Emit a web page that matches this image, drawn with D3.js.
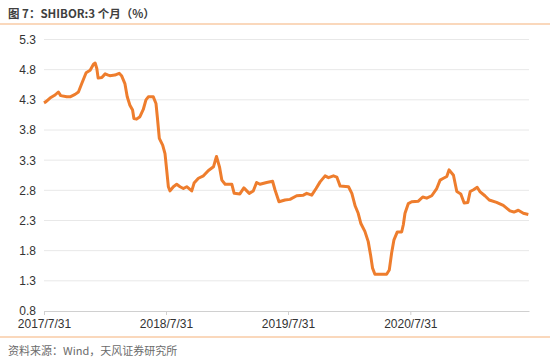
<!DOCTYPE html>
<html>
<head>
<meta charset="utf-8">
<script src="https://cdn.jsdelivr.net/npm/d3@7"></script>
<style>
  html, body { margin: 0; padding: 0; background: #fff; }
  svg { display: block; }
</style>
</head>
<body>
<svg id="chart" width="550" height="363"></svg>
<script>
// SHIBOR 3个月，数值从原图读取（近似）
const dates = [
  "2017-07-31", "2017-08-06", "2017-08-18", "2017-09-02", "2017-09-12", "2017-09-19",
  "2017-10-07", "2017-10-17", "2017-11-01", "2017-11-11", "2017-11-21", "2017-12-04",
  "2017-12-16", "2017-12-26", "2017-12-31", "2018-01-05", "2018-01-09", "2018-01-20",
  "2018-01-30", "2018-02-08", "2018-02-13", "2018-02-28", "2018-03-13", "2018-03-20",
  "2018-03-30", "2018-04-06", "2018-04-14", "2018-04-22", "2018-04-26", "2018-05-04",
  "2018-05-14", "2018-05-24", "2018-06-01", "2018-06-08", "2018-06-23", "2018-07-01",
  "2018-07-05", "2018-07-11", "2018-07-21", "2018-07-28", "2018-08-02", "2018-08-07",
  "2018-08-12", "2018-08-22", "2018-09-01", "2018-09-11", "2018-09-21", "2018-10-01",
  "2018-10-16", "2018-10-23", "2018-11-05", "2018-11-20", "2018-12-05", "2018-12-20",
  "2018-12-29", "2019-01-07", "2019-01-14", "2019-01-24", "2019-02-13", "2019-02-20",
  "2019-03-09", "2019-03-21", "2019-04-06", "2019-04-18", "2019-04-28", "2019-05-08",
  "2019-05-28", "2019-06-15", "2019-06-22", "2019-07-04", "2019-07-22", "2019-08-06",
  "2019-08-26", "2019-09-15", "2019-09-25", "2019-10-10", "2019-10-23", "2019-11-04",
  "2019-11-19", "2019-11-29", "2019-12-14", "2019-12-24", "2020-01-03", "2020-01-28",
  "2020-02-07", "2020-02-17", "2020-02-26", "2020-03-05", "2020-03-17", "2020-03-27",
  "2020-04-03", "2020-04-09", "2020-04-16", "2020-05-21", "2020-05-29", "2020-06-05",
  "2020-06-12", "2020-06-22", "2020-07-05", "2020-07-10", "2020-07-15", "2020-07-25",
  "2020-08-04", "2020-08-24", "2020-09-06", "2020-09-18", "2020-10-03", "2020-10-18",
  "2020-10-28", "2020-11-07", "2020-11-17", "2020-11-24", "2020-12-07", "2020-12-17",
  "2020-12-29", "2021-01-08", "2021-01-19", "2021-01-26", "2021-02-05", "2021-02-16",
  "2021-02-24", "2021-03-11", "2021-03-24", "2021-04-15", "2021-05-05", "2021-05-25",
  "2021-06-06", "2021-06-19", "2021-07-04", "2021-07-19"
];
const shibor3m = [
  4.25, 4.27, 4.33, 4.38, 4.43, 4.37,
  4.35, 4.35, 4.39, 4.43, 4.57, 4.75,
  4.79, 4.89, 4.91, 4.82, 4.66, 4.67,
  4.73, 4.71, 4.70, 4.71, 4.74, 4.70,
  4.57, 4.35, 4.21, 4.13, 3.99, 3.98,
  4.02, 4.14, 4.30, 4.35, 4.35, 4.24,
  4.02, 3.66, 3.55, 3.41, 3.14, 2.86,
  2.79, 2.86, 2.90, 2.86, 2.83, 2.86,
  2.79, 2.92, 3.00, 3.04, 3.13, 3.19,
  3.36, 3.19, 2.97, 2.90, 2.90, 2.75,
  2.74, 2.84, 2.75, 2.79, 2.93, 2.90,
  2.93, 2.95, 2.81, 2.61, 2.64, 2.65,
  2.71, 2.72, 2.75, 2.72, 2.83, 2.94,
  3.04, 3.01, 3.04, 3.02, 2.87, 2.86,
  2.75, 2.54, 2.42, 2.25, 2.12, 1.95,
  1.73, 1.51, 1.41, 1.41, 1.48, 1.76,
  1.98, 2.11, 2.11, 2.23, 2.42, 2.58,
  2.61, 2.62, 2.69, 2.67, 2.71, 2.83,
  2.97, 3.00, 3.03, 3.14, 3.05, 2.78,
  2.74, 2.59, 2.60, 2.78, 2.81, 2.85,
  2.78, 2.71, 2.64, 2.60, 2.55, 2.46,
  2.44, 2.47, 2.42, 2.40
];
const yTicks = [0.8, 1.3, 1.8, 2.3, 2.8, 3.3, 3.8, 4.3, 4.8, 5.3];
const xTicks = ["2017-07-31", "2018-07-31", "2019-07-31", "2020-07-31"];
const xTickLabels = ["2017/7/31", "2018/7/31", "2019/7/31", "2020/7/31"];
const domainEnd = "2021-07-21";

const svg = d3.select("#chart");
const width = +svg.attr("width");
const height = +svg.attr("height");
const margin = { top: 39.5, right: 21, bottom: 52, left: 44 };
const innerWidth = width - margin.left - margin.right;
const innerHeight = height - margin.top - margin.bottom;
const parse = d3.utcParse("%Y-%m-%d");

const data = dates.map((d, i) => ({ date: parse(d), value: shibor3m[i] }));

// 标题 和 分隔线
svg.append("text")
  .attr("x", 8).attr("y", 18)
  .attr("font-family", "'Noto Sans CJK SC', 'Noto Sans', sans-serif")
  .attr("font-size", "11.5px")
  .attr("font-weight", "bold")
  .attr("fill", "#404040")
  .text("图 7：SHIBOR:3 个月（%）");

svg.append("line")
  .attr("x1", 0).attr("x2", width)
  .attr("y1", 24).attr("y2", 24)
  .attr("stroke", "#f8cba6").attr("stroke-width", 1.5);

svg.append("line")
  .attr("x1", 0).attr("x2", width)
  .attr("y1", 337).attr("y2", 337)
  .attr("stroke", "#f8cba6").attr("stroke-width", 1.5);

svg.append("text")
  .attr("x", 8).attr("y", 355)
  .attr("font-family", "'Noto Sans CJK SC', 'Noto Sans', sans-serif")
  .attr("font-size", "11px")
  .attr("fill", "#6b6b6b")
  .text("资料来源：Wind，天风证券研究所");

const g = svg.append("g")
  .attr("transform", `translate(${margin.left},${margin.top})`);

const x = d3.scaleUtc()
  .domain([parse(dates[0]), parse(domainEnd)])
  .range([0, innerWidth]);

const y = d3.scaleLinear()
  .domain([0.8, 5.3])
  .range([innerHeight, 0]);

// 网格线
g.append("g")
  .selectAll("line")
  .data(yTicks.slice(1))
  .enter().append("line")
    .attr("x1", 0).attr("x2", innerWidth)
    .attr("y1", d => y(d)).attr("y2", d => y(d))
    .attr("stroke", "#e8e8e8")
    .attr("stroke-width", 1);

// Y 轴
const yAxis = g.append("g")
  .call(d3.axisLeft(y).tickValues(yTicks).tickFormat(d3.format(".1f")).tickSize(0).tickPadding(8));
yAxis.select(".domain").remove();
yAxis.selectAll("text")
  .attr("font-family", "'Liberation Sans', Arial, sans-serif")
  .attr("font-size", "12px")
  .attr("fill", "#333");

// X 轴
const xAxis = g.append("g")
  .attr("transform", `translate(0,${innerHeight})`)
  .call(d3.axisBottom(x)
    .tickValues(xTicks.map(parse))
    .tickFormat((d, i) => xTickLabels[i])
    .tickSizeInner(4).tickSizeOuter(0).tickPadding(4));
xAxis.select(".domain").attr("stroke", "#d0d0d0");
xAxis.selectAll(".tick line").attr("stroke", "#d0d0d0");
xAxis.selectAll("text")
  .attr("font-family", "'Liberation Sans', Arial, sans-serif")
  .attr("font-size", "12px")
  .attr("fill", "#333");

// 折线
const line = d3.line()
  .x(d => x(d.date))
  .y(d => y(d.value));

g.append("path")
  .datum(data)
  .attr("fill", "none")
  .attr("stroke", "#ee7d2d")
  .attr("stroke-width", 3)
  .attr("stroke-linejoin", "round")
  .attr("d", line);
</script>
</body>
</html>
